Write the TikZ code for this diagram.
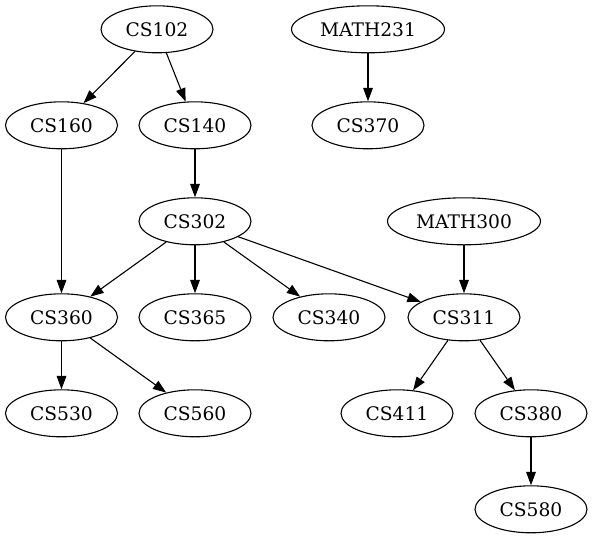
\documentclass[tikz,border=0pt]{standalone}
\usepackage{fontspec}
\setmainfont{DejaVu Serif}
\usetikzlibrary{shapes.geometric,arrows.meta}
\begin{document}
\begin{tikzpicture}[x=1pt,y=-1pt,
  course/.style={draw, ellipse, line width=1.1pt, minimum width=112pt, minimum height=47pt, inner sep=0pt, font=\fontsize{18.67}{20}\selectfont},
  mathc/.style={course, minimum width=153pt},
  edge/.style={draw, line width=1.1pt, -{Triangle[length=13.3pt,width=9.6pt]}}]
\useasboundingbox (0,0) rectangle (592,539);
\node[course] (cs102) at (157,29.3) {CS102};
\node[mathc] (math231) at (368,29.3) {MATH231};
\node[course] (cs160) at (61.5,125.3) {CS160};
\node[course] (cs140) at (195,125.3) {CS140};
\node[course] (cs370) at (368,125.3) {CS370};
\node[course] (cs302) at (195,221.3) {CS302};
\node[mathc] (math300) at (464,221.3) {MATH300};
\node[course] (cs360) at (61.5,317.3) {CS360};
\node[course] (cs365) at (195,317.3) {CS365};
\node[course] (cs340) at (329,317.3) {CS340};
\node[course] (cs311) at (464,317.3) {CS311};
\node[course] (cs530) at (61.5,413.3) {CS530};
\node[course] (cs560) at (195,413.3) {CS560};
\node[course] (cs411) at (397,413.3) {CS411};
\node[course] (cs380) at (531,413.3) {CS380};
\node[course] (cs580) at (531,509.3) {CS580};
\draw[edge] (cs102) -- (cs160);
\draw[edge] (cs102) -- (cs140);
\draw[edge] (math231) -- (cs370);
\draw[edge] (cs140) -- (cs302);
\draw[edge] (cs160) -- (cs360);
\draw[edge] (cs302) -- (cs360);
\draw[edge] (cs302) -- (cs365);
\draw[edge] (cs302) -- (cs340);
\draw[edge] (cs302) -- (cs311);
\draw[edge] (math300) -- (cs311);
\draw[edge] (cs360) -- (cs530);
\draw[edge] (cs360) -- (cs560);
\draw[edge] (cs311) -- (cs411);
\draw[edge] (cs311) -- (cs380);
\draw[edge] (cs380) -- (cs580);
\end{tikzpicture}
\end{document}
